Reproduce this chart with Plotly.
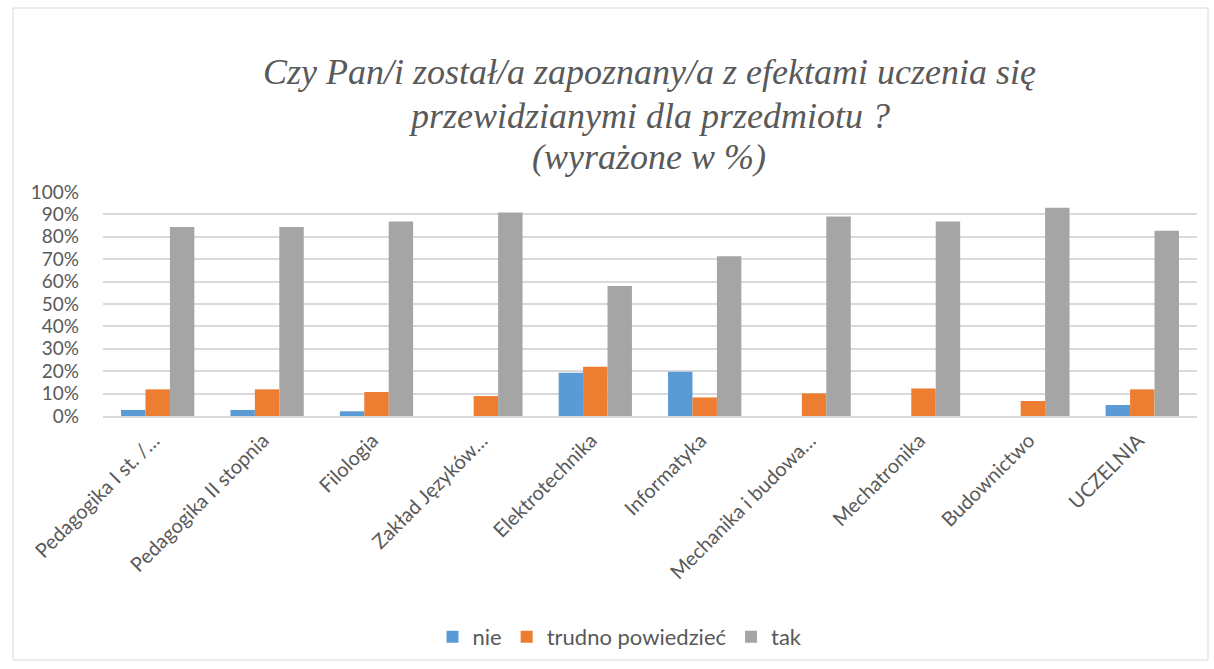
import plotly.graph_objects as go

categories = ["Pedagogika I st. /…", "Pedagogika II stopnia", "Filologia", "Zakład Języków…",
              "Elektrotechnika", "Informatyka", "Mechanika i budowa…", "Mechatronika",
              "Budownictwo", "UCZELNIA"]
nie = [2.7, 2.7, 2.1, 0, 19.3, 19.8, 0, 0, 0, 4.9]
trudno = [11.9, 11.9, 10.7, 8.9, 22.0, 8.3, 10.1, 12.3, 6.7, 11.9]
tak = [84.4, 84.4, 86.8, 90.8, 58.0, 71.3, 89.1, 86.8, 93.0, 82.7]
series_names = ["nie", "trudno powiedzieć", "tak"]
colors = ["#5b9bd5", "#ed7d31", "#a5a5a5"]
y_ticks = list(range(0, 101, 10))
y_tick_text = [f"{v}%" for v in y_ticks]
title_lines = ["Czy Pan/i został/a zapoznany/a z efektami uczenia się",
               "przewidzianymi dla przedmiotu ?",
               "(wyrażone w %)"]

fig = go.Figure()
for name, vals, col in zip(series_names, [nie, trudno, tak], colors):
    fig.add_trace(go.Bar(x=categories, y=vals, name=name, marker_color=col,
                         marker_line_width=0))

W, H = 1214, 669
L, R, T, B = 103, 17, 192, 253
pw, ph = W - L - R, H - T - B

def px(x):
    return (x - L) / pw

def py(y):
    return (H - B - y) / ph

title_y = [72, 116, 157]
annotations = [dict(text=f"<i>{t}</i>", xref="paper", yref="paper", x=px(649), y=py(yy),
                    xanchor="center", yanchor="middle", showarrow=False,
                    font=dict(family="Liberation Serif, serif", size=36, color="#595959"))
               for t, yy in zip(title_lines, title_y)]

fig.update_layout(
    width=W, height=H,
    margin=dict(l=L, r=R, t=T, b=B, autoexpand=False),
    paper_bgcolor="white", plot_bgcolor="white",
    barmode="group", bargap=0.33, bargroupgap=0,
    font=dict(family="Lato, Liberation Sans, sans-serif", color="#595959"),
    showlegend=True,
    legend=dict(orientation="h", x=px(620), y=py(637), xanchor="center", yanchor="middle",
                font=dict(size=22, color="#595959"), traceorder="normal",
                itemwidth=30),
    annotations=annotations,
    shapes=[dict(type="rect", xref="paper", yref="paper",
                 x0=px(13), x1=px(1208), y0=py(660), y1=py(8),
                 line=dict(color="#d9d9d9", width=1), fillcolor="rgba(0,0,0,0)", layer="below")],
)
fig.update_yaxes(range=[0, 100], tickvals=y_ticks, ticktext=y_tick_text, showgrid=True,
                 gridcolor="#d9d9d9", gridwidth=2, zeroline=False, showline=False,
                 tickfont=dict(size=19, color="#595959"), ticks="", automargin=False,
                 ticklabelstandoff=23)
fig.update_xaxes(tickangle=-45, showline=True, linecolor="#d9d9d9", linewidth=2,
                 ticks="", tickfont=dict(size=20, color="#595959"), automargin=False,
                 ticklabelshift=-4, ticklabelstandoff=3)

fig.write_html("out.html", config={"displayModeBar": False},
               post_script="document.body.style.margin='0';")
